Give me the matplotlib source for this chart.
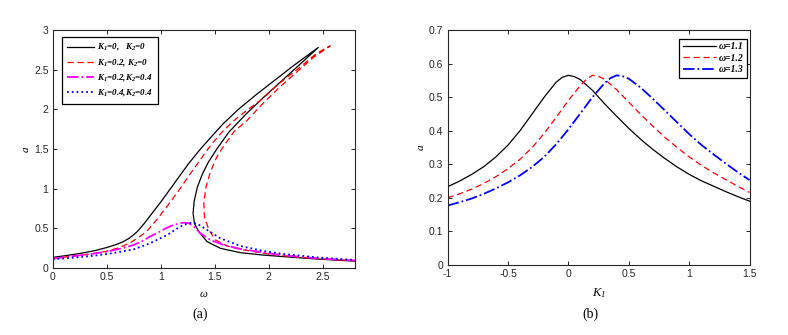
import matplotlib
matplotlib.use("Agg")
import matplotlib.pyplot as plt
from matplotlib.ticker import FuncFormatter

plt.rcParams['font.family'] = ['Liberation Sans', 'DejaVu Sans']
plt.rcParams['axes.unicode_minus'] = False
plt.rcParams['mathtext.fontset'] = 'custom'
plt.rcParams['mathtext.it'] = 'Liberation Serif:italic'
plt.rcParams['mathtext.rm'] = 'Liberation Serif:italic'
plt.rcParams['mathtext.bf'] = 'Liberation Serif:italic:bold'

# (a) amplitude a versus frequency omega
w_k00 = [0, 0.1, 0.2, 0.3, 0.4, 0.5, 0.6, 0.65, 0.7, 0.74, 0.78, 0.81, 0.85, 0.92, 1.0, 1.08, 1.16, 1.25,
         1.35, 1.46, 1.58, 1.72, 1.88, 2.05, 2.22, 2.36, 2.46,
         2.30, 2.13, 1.96, 1.79, 1.63, 1.52, 1.44, 1.385, 1.34, 1.31, 1.30, 1.313, 1.353, 1.43, 1.554,
         1.74, 1.95, 2.14, 2.45, 2.8]
a_k00 = [0.134, 0.152, 0.172, 0.195, 0.222, 0.258, 0.302, 0.33, 0.368, 0.408, 0.455, 0.50, 0.565, 0.69,
         0.83, 0.98, 1.13, 1.30, 1.47, 1.64, 1.82, 2.0, 2.18, 2.36, 2.54, 2.68, 2.78,
         2.58, 2.37, 2.16, 1.94, 1.71, 1.50, 1.33, 1.18, 1.02, 0.84, 0.69, 0.56, 0.458, 0.332, 0.248,
         0.193, 0.163, 0.143, 0.113, 0.086]

w_k20 = [0, 0.1, 0.2, 0.35, 0.5, 0.6, 0.7, 0.75, 0.8, 0.85, 0.89, 0.97, 1.05, 1.12, 1.20, 1.28, 1.37,
         1.47, 1.58, 1.68, 1.80, 1.93, 2.11, 2.28, 2.42, 2.50, 2.57,
         2.42, 2.26, 2.11, 1.93, 1.80, 1.68, 1.585, 1.52, 1.46, 1.42, 1.40, 1.405, 1.446, 1.508, 1.616,
         1.74, 2.0, 2.3, 2.55, 2.8]
a_k20 = [0.125, 0.137, 0.15, 0.176, 0.212, 0.25, 0.305, 0.345, 0.39, 0.44, 0.49, 0.62, 0.76, 0.89, 1.04,
         1.20, 1.37, 1.56, 1.73, 1.86, 1.99, 2.12, 2.34, 2.52, 2.68, 2.75, 2.80,
         2.66, 2.47, 2.29, 2.05, 1.86, 1.72, 1.54, 1.40, 1.21, 1.02, 0.83, 0.65, 0.48, 0.353, 0.277,
         0.235, 0.175, 0.133, 0.11, 0.092]

w_k24 = [0, 0.19, 0.35, 0.50, 0.63, 0.75, 0.83, 0.90, 0.98, 1.06, 1.12, 1.18, 1.22, 1.26, 1.307, 1.368,
         1.46, 1.585, 1.74, 2.0, 2.14, 2.45, 2.8]
a_k24 = [0.117, 0.151, 0.175, 0.206, 0.245, 0.29, 0.34, 0.395, 0.45, 0.508, 0.543, 0.565, 0.572, 0.566,
         0.521, 0.437, 0.353, 0.29, 0.24, 0.185, 0.16, 0.122, 0.095]

w_k44 = [0, 0.19, 0.35, 0.50, 0.63, 0.75, 0.90, 1.06, 1.18, 1.24, 1.29, 1.337, 1.43, 1.554, 1.74, 1.95,
         2.14, 2.45, 2.8]
a_k44 = [0.109, 0.13, 0.15, 0.176, 0.205, 0.235, 0.311, 0.416, 0.521, 0.556, 0.572, 0.560, 0.479, 0.374,
         0.277, 0.215, 0.176, 0.134, 0.10]

# (b) amplitude a versus K1
k_w11 = [-1, -0.9, -0.8, -0.7, -0.6, -0.5, -0.4, -0.3, -0.2, -0.1, -0.05, 0, 0.05, 0.1, 0.2, 0.3, 0.4,
         0.5, 0.6, 0.7, 0.8, 0.9, 1.0, 1.1, 1.2, 1.3, 1.4, 1.5]
a_w11 = [0.233, 0.25, 0.27, 0.293, 0.322, 0.357, 0.40, 0.45, 0.50, 0.545, 0.559, 0.565, 0.561, 0.552,
         0.52, 0.48, 0.443, 0.407, 0.374, 0.344, 0.317, 0.292, 0.27, 0.251, 0.235, 0.219, 0.204, 0.19]
k_w12 = [-1, -0.9, -0.8, -0.7, -0.6, -0.5, -0.4, -0.3, -0.2, -0.1, 0, 0.1, 0.15, 0.2, 0.25, 0.3, 0.4,
         0.5, 0.6, 0.7, 0.8, 0.9, 1.0, 1.1, 1.2, 1.3, 1.4, 1.5]
a_w12 = [0.2, 0.212, 0.226, 0.243, 0.263, 0.287, 0.315, 0.35, 0.392, 0.44, 0.49, 0.535, 0.553, 0.565,
         0.562, 0.553, 0.522, 0.485, 0.448, 0.413, 0.38, 0.35, 0.322, 0.297, 0.275, 0.255, 0.235, 0.216]
k_w13 = [-1, -0.9, -0.8, -0.7, -0.6, -0.5, -0.4, -0.3, -0.2, -0.1, 0, 0.1, 0.2, 0.3, 0.35, 0.4, 0.45,
         0.5, 0.6, 0.7, 0.8, 0.9, 1.0, 1.1, 1.2, 1.3, 1.4, 1.5]
a_w13 = [0.177, 0.187, 0.198, 0.212, 0.228, 0.246, 0.267, 0.292, 0.322, 0.36, 0.404, 0.452, 0.5, 0.542,
         0.557, 0.565, 0.562, 0.555, 0.528, 0.495, 0.46, 0.425, 0.39, 0.358, 0.33, 0.303, 0.277, 0.253]

fig = plt.figure(figsize=(7.88, 3.35), dpi=100)
ax1 = fig.add_axes([0.0669, 0.2, 0.3836, 0.7104])
ax2 = fig.add_axes([0.568, 0.209, 0.3832, 0.7015])

lw = 0.9
ax1.plot(w_k00, a_k00, color='black', lw=lw, label=r'$\mathbf{K_1}$=0,   $\mathbf{K_2}$=0')
ax1.plot(w_k20, a_k20, color='red', lw=lw, dashes=(5, 3), label=r'$\mathbf{K_1}$=0.2, $\mathbf{K_2}$=0')
ax1.plot(w_k24, a_k24, color='magenta', lw=1.3, ls='-.', label=r'$\mathbf{K_1}$=0.2,$\mathbf{K_2}$=0.4')
ax1.plot(w_k44, a_k44, color='blue', lw=1.3, ls=':', label=r'$\mathbf{K_1}$=0.4,$\mathbf{K_2}$=0.4')

ax2.plot(k_w11, a_w11, color='black', lw=lw, label='ω=1.1')
ax2.plot(k_w12, a_w12, color='red', lw=lw, dashes=(5, 3), label='ω=1.2')
ax2.plot(k_w13, a_w13, color='blue', lw=1.3, ls='-.', label='ω=1.3')

ax1.set_xlim(0, 2.8)
ax1.set_ylim(0, 3)
ax1.set_xticks([0, 0.5, 1, 1.5, 2, 2.5])
ax1.set_yticks([0, 0.5, 1, 1.5, 2, 2.5, 3])
ax2.set_xlim(-1, 1.5)
ax2.set_ylim(0, 0.7)
ax2.set_xticks([-1, -0.5, 0, 0.5, 1, 1.5])
ax2.set_yticks([0, 0.1, 0.2, 0.3, 0.4, 0.5, 0.6, 0.7])

fmt = FuncFormatter(lambda v, p: '{:g}'.format(v))
for ax in (ax1, ax2):
    ax.xaxis.set_major_formatter(fmt)
    ax.yaxis.set_major_formatter(fmt)
    ax.tick_params(direction='in', length=3, width=0.7, labelsize=7.5, top=True, right=True, pad=3,
                   colors='#262626')
    for s in ax.spines.values():
        s.set_linewidth(0.8)
        s.set_color('#262626')

ax1.set_xlabel(r'$\omega$', fontsize=8, labelpad=5)
ax1.set_ylabel(r'$a$', fontsize=8, labelpad=2)
ax2.set_xlabel(r'$K_1$', fontsize=9, labelpad=5)
ax2.set_ylabel(r'$a$', fontsize=8, labelpad=2)

legprop = dict(family='Liberation Serif', style='italic', weight='bold', size=6.5)
leg1 = ax1.legend(loc='upper left', bbox_to_anchor=(0.031, 0.969), borderaxespad=0, prop=legprop,
                  handlelength=3.0, fancybox=False, edgecolor='black', framealpha=1,
                  borderpad=0.55, labelspacing=0.45, handletextpad=0.35)
leg1.get_frame().set_linewidth(0.9)
leg2 = ax2.legend(loc='upper right', bbox_to_anchor=(0.991, 0.962), borderaxespad=0,
                  prop=dict(legprop, size=7), handlelength=3.4, fancybox=False, edgecolor='black',
                  framealpha=1, borderpad=0.35, labelspacing=0.25, handletextpad=0.3)
leg2.get_frame().set_linewidth(0.9)

fig.text(0.254, 0.05, '(a)', fontsize=10, family='Liberation Serif', ha='center')
fig.text(0.749, 0.05, '(b)', fontsize=10, family='Liberation Serif', ha='center')

fig.savefig('out.png', dpi=100)
